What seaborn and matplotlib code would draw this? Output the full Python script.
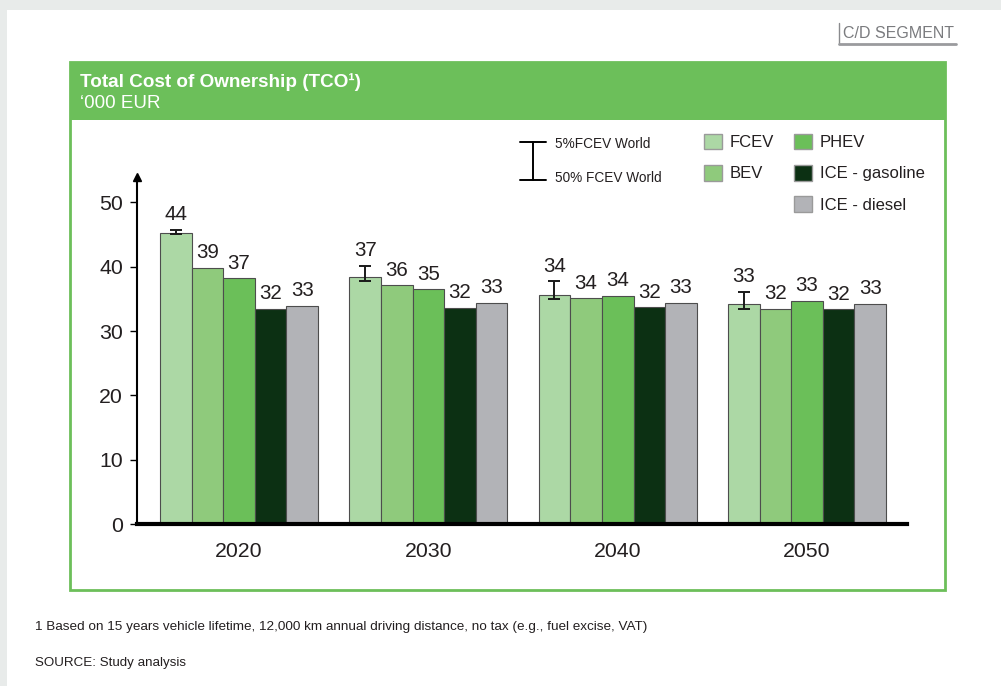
import seaborn as sns
import matplotlib.pyplot as plt
import pandas as pd
from matplotlib.patches import Patch, Rectangle
from matplotlib.lines import Line2D

# values ('000 EUR)
years = ["2020", "2030", "2040", "2050"]
powertrains = ["FCEV", "BEV", "PHEV", "ICE - gasoline", "ICE - diesel"]
fcev = [45.3, 38.4, 35.6, 34.2]
bev = [39.8, 37.1, 35.1, 33.5]
phev = [38.2, 36.5, 35.5, 34.7]
ice_gasoline = [33.5, 33.6, 33.7, 33.4]
ice_diesel = [33.9, 34.4, 34.4, 34.2]

# FCEV range: 5% FCEV world (top) to 50% FCEV world (bottom)
fcev_hi = [45.7, 40.1, 37.7, 36.1]
fcev_lo = [45.1, 37.8, 35.0, 33.4]

# value labels as printed on the chart
fcev_lbl = ["44", "37", "34", "33"]
bev_lbl = ["39", "36", "34", "32"]
phev_lbl = ["37", "35", "34", "33"]
gasoline_lbl = ["32", "32", "32", "32"]
diesel_lbl = ["33", "33", "33", "33"]

colors = ["#acd8a5", "#8fca7c", "#6bbf59", "#0c3013", "#b2b3b7"]
green = "#6cbf5a"

series = [fcev, bev, phev, ice_gasoline, ice_diesel]
labels = [fcev_lbl, bev_lbl, phev_lbl, gasoline_lbl, diesel_lbl]
df = pd.DataFrame([
    {"year": y, "powertrain": p, "tco": vals[i]}
    for p, vals in zip(powertrains, series)
    for i, y in enumerate(years)
])

sns.set_theme(style="white")
plt.rcParams['font.family'] = ['Liberation Sans', 'DejaVu Sans']

W, H = 1001, 686
fig = plt.figure(figsize=(W / 100, H / 100), dpi=100, facecolor="#e8ebea")


def fx(x):
    return x / W


def fy(y):
    return 1 - y / H


# page, header band and frame
fig.add_artist(Rectangle((fx(7), 0), 1, fy(10), transform=fig.transFigure,
                         facecolor="white", edgecolor="none", zorder=0))
fig.add_artist(Rectangle((fx(70), fy(120)), fx(875), 58 / H, transform=fig.transFigure,
                         facecolor=green, edgecolor="none", zorder=1))
fig.add_artist(Rectangle((fx(70), fy(590)), fx(875), 528 / H, transform=fig.transFigure,
                         facecolor="none", edgecolor=green, lw=2, zorder=1))
fig.text(fx(80), fy(82), "Total Cost of Ownership (TCO¹)", color="white",
         fontsize=13.6, fontweight="bold", va="center")
fig.text(fx(80), fy(103), "‘000 EUR", color="white", fontsize=13.5, va="center")

# segment tag
fig.text(fx(843), fy(33), "C/D SEGMENT", color="#7a7b7e", fontsize=11.5, va="center")
fig.add_artist(Line2D([fx(839), fx(839)], [fy(23), fy(44)], transform=fig.transFigure,
                      color="#8a8b8e", lw=1))
fig.add_artist(Line2D([fx(839), fx(956)], [fy(44), fy(44)], transform=fig.transFigure,
                      color="#9a9b9e", lw=2))

ax = fig.add_axes([fx(137), fy(524.3), fx(907) - fx(137), (524.3 - 176.5) / H])
ax.set_facecolor("none")

sns.barplot(data=df, x="year", y="tco", hue="powertrain", hue_order=powertrains,
            palette=colors, saturation=1, width=0.835, edgecolor="#4d4d4d",
            linewidth=0.8, legend=False, ax=ax)

ax.set_xlim(-0.539, 3.528)
ax.set_ylim(0, 54)
ax.set_yticks([0, 10, 20, 30, 40, 50])
ax.set_xlabel("")
ax.set_ylabel("")
sns.despine(ax=ax, top=True, right=True)
ax.spines["left"].set_linewidth(1.5)
ax.spines["left"].set_color("black")
ax.spines["bottom"].set_linewidth(3)
ax.spines["bottom"].set_color("black")
ax.tick_params(axis="y", length=5, width=1, color="black", pad=5, labelsize=15.3,
               left=True, direction="out")
ax.tick_params(axis="x", length=0, pad=13, labelsize=15.3)
for t in ax.get_xticklabels() + ax.get_yticklabels():
    t.set_color("#231f20")
ax.plot([-0.539], [54], marker="^", color="black", markersize=6, clip_on=False)

# FCEV range whiskers
fcev_x = [b.get_x() + b.get_width() / 2 for b in ax.containers[0]]
mid = [(h + l) / 2 for h, l in zip(fcev_hi, fcev_lo)]
half = [(h - l) / 2 for h, l in zip(fcev_hi, fcev_lo)]
ax.errorbar(fcev_x, mid, yerr=half, fmt="none", ecolor="#1a1a1a",
            elinewidth=1.4, capsize=4, capthick=1.4, zorder=5)

# value labels
for k, cont in enumerate(ax.containers[:5]):
    for i, b in enumerate(cont):
        top = fcev_hi[i] if k == 0 else b.get_height()
        ax.annotate(labels[k][i], (b.get_x() + b.get_width() / 2, top),
                    xytext=(0, 4), textcoords="offset points", ha="center",
                    va="bottom", fontsize=14.8, color="#231f20")

# legend: whisker key
for y in (142, 180):
    fig.add_artist(Line2D([fx(520), fx(546)], [fy(y), fy(y)], transform=fig.transFigure,
                          color="black", lw=1.4))
fig.add_artist(Line2D([fx(533), fx(533)], [fy(142), fy(180)], transform=fig.transFigure,
                      color="black", lw=1.4))
fig.text(fx(555), fy(144), "5%FCEV World", fontsize=9.8, va="center", color="#231f20")
fig.text(fx(555), fy(178), "50% FCEV World", fontsize=9.8, va="center", color="#231f20")

handles = [Patch(facecolor=colors[0], edgecolor="#9a9a9a"),
           Patch(facecolor=colors[1], edgecolor="#9a9a9a"),
           Patch(facecolor="none", edgecolor="none"),
           Patch(facecolor=colors[2], edgecolor="#9a9a9a"),
           Patch(facecolor=colors[3], edgecolor="#9a9a9a"),
           Patch(facecolor=colors[4], edgecolor="#9a9a9a")]
leg_labels = [powertrains[0], powertrains[1], "", powertrains[2], powertrains[3], powertrains[4]]
leg = ax.legend(handles, leg_labels, ncol=2, loc="upper left",
                bbox_to_anchor=(fx(704), fy(134)), bbox_transform=fig.transFigure,
                frameon=False, fontsize=12, handlelength=1.05, handleheight=1.05,
                handletextpad=0.5, labelspacing=0.88, columnspacing=1.2,
                borderpad=0, borderaxespad=0)
for t in leg.get_texts():
    t.set_color("#231f20")

# footnotes
fig.text(fx(35), fy(627), "1 Based on 15 years vehicle lifetime, 12,000 km annual driving distance, "
         "no tax (e.g., fuel excise, VAT)", fontsize=9.7, va="center", color="#231f20")
fig.text(fx(35), fy(663), "SOURCE: Study analysis", fontsize=9.6, va="center", color="#231f20")

fig.savefig("out.png", dpi=100, facecolor=fig.get_facecolor())
plt.close(fig)
